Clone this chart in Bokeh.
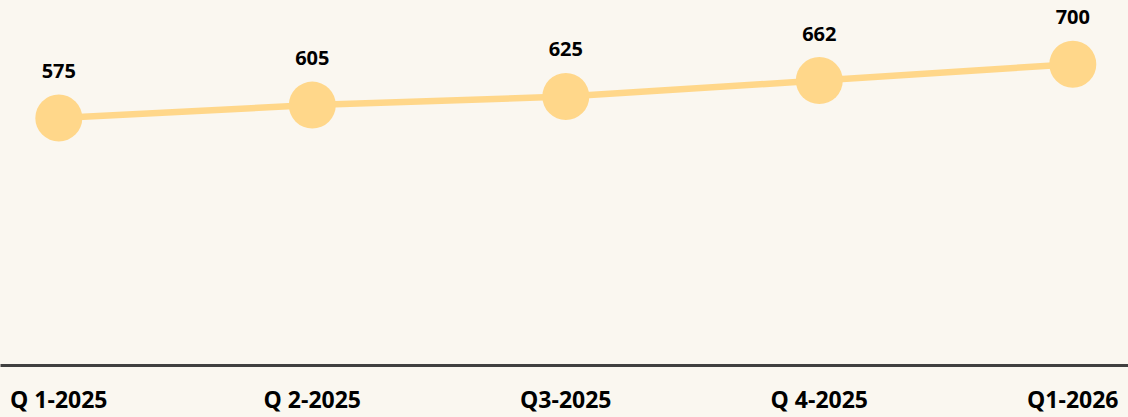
from bokeh.plotting import figure
from bokeh.models import Range1d, FixedTicker, ColumnDataSource, LabelSet
from bokeh.core.properties import value
from bokeh.embed import file_html
from bokeh.resources import INLINE
from jinja2 import Template

categories = ["Q 1-2025", "Q 2-2025", "Q3-2025", "Q 4-2025", "Q1-2026"]
values = [575, 605, 625, 662, 700]
label_texts = [str(v) for v in values]

BG = "#FAF7F0"
YEL = "#FFD78A"

xs = list(range(len(categories)))
src = ColumnDataSource(dict(x=xs, y=values, t=label_texts))

p = figure(width=1128, height=417, output_backend="svg", toolbar_location=None,
           x_range=Range1d(-0.230, 4.2197), y_range=Range1d(0, 848),
           y_axis_location=None, min_border_left=0, min_border_right=0,
           min_border_top=0, min_border_bottom=50)
p.background_fill_color = BG
p.border_fill_color = BG
p.outline_line_color = None
p.xgrid.grid_line_color = None
p.ygrid.grid_line_color = None

p.line("x", "y", source=src, line_color=YEL, line_width=6.5)
p.scatter("x", "y", source=src, size=47, fill_color=YEL, line_color=None)

labels = LabelSet(x="x", y="y", text="t", source=src, y_offset=47,
                  text_align="center", text_baseline="middle",
                  text_font=value("Open Sans"), text_font_style="bold",
                  text_font_size="20px", text_color="#000000")
p.add_layout(labels)

ax = p.xaxis[0]
ax.ticker = FixedTicker(ticks=xs)
ax.major_label_overrides = {i: c for i, c in zip(xs, categories)}
ax.axis_line_color = "#404040"
ax.axis_line_width = 3
ax.major_tick_line_color = None
ax.minor_tick_line_color = None
ax.major_tick_out = 0
ax.major_tick_in = 0
ax.major_label_standoff = 17
ax.major_label_text_font = "Open Sans"
ax.major_label_text_font_style = "bold"
ax.major_label_text_font_size = "23px"
ax.major_label_text_color = "#000000"

tmpl = Template("""{% extends base %}
{% block preamble %}<style>html, body { margin: 0 !important; padding: 0 !important; background: #FAF7F0; }</style>{% endblock %}
""")

open("out.html", "w").write(file_html(p, INLINE, template=tmpl))
